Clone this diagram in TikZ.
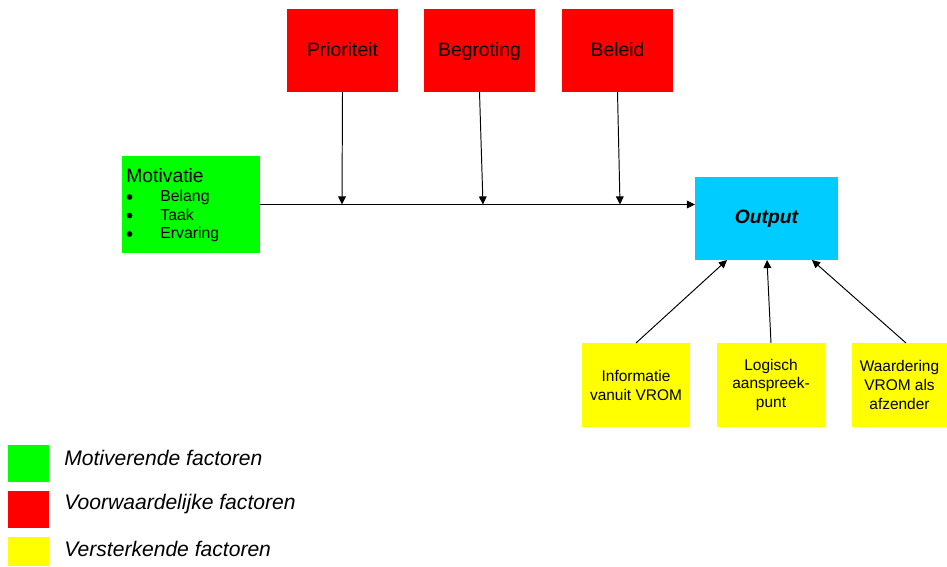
\documentclass[tikz,border=0pt]{standalone}
\usepackage{fontspec}
\setmainfont{Liberation Sans}
\usetikzlibrary{arrows.meta,calc}
\definecolor{cgreen}{HTML}{00FF00}
\definecolor{cred}{HTML}{FF0000}
\definecolor{cyellow}{HTML}{FFFF00}
\definecolor{ccyan}{HTML}{00CCFF}
\tikzset{
  box/.style={draw=none, inner sep=0pt, outer sep=0pt, align=center},
  redbox/.style={box, fill=cred, minimum width=2.22cm, minimum height=1.66cm, text height=8pt, text depth=1.5pt, font=\fontsize{11}{13}\selectfont},
  yelbox/.style={box, fill=cyellow, minimum height=1.68cm, font=\fontsize{8.8}{10.8}\selectfont},
  legbox/.style={box, fill=#1, minimum width=0.82cm},
  legtext/.style={anchor=west, inner sep=0pt, font=\fontsize{12}{14}\selectfont\itshape},
  motitem/.style={anchor=west, inner sep=0pt, font=\fontsize{9}{11}\selectfont},
  bulletdot/.style={fill=black},
  arr/.style={-{Triangle[length=4.6pt,width=4.4pt]}, line width=0.55pt, black},
}
\begin{document}
\begin{tikzpicture}[x=0.02cm,y=-0.02cm]
\useasboundingbox (0,0) rectangle (947,567);
% red boxes
\node[redbox] (prio) at (342.5,50.5) {Prioriteit};
\node[redbox] (begr) at (479.5,50.5) {Begroting};
\node[redbox] (bel)  at (617.5,50.5) {Beleid};
% motivation box
\node[box, fill=cgreen, minimum width=2.76cm, minimum height=1.94cm] (motiv) at (191,204.5) {};
\node[anchor=west, inner sep=0pt, font=\fontsize{11}{13}\selectfont] (mtitle) at (126,176) {Motivatie};
\fill[bulletdot] (129.5,197) circle[radius=2.9];
\fill[bulletdot] (129.5,215.5) circle[radius=2.9];
\fill[bulletdot] (129.5,234) circle[radius=2.9];
\node[motitem] (m1) at (160,197) {Belang};
\node[motitem] (m2) at (160,215) {Taak};
\node[motitem] (m3) at (160,234) {Ervaring};
% output
\node[box, fill=ccyan, minimum width=2.86cm, minimum height=1.66cm, font=\fontsize{11}{13}\selectfont\bfseries\itshape] (out) at (766.5,218.5) {Output};
% yellow boxes
\node[yelbox, minimum width=2.16cm] (info) at (636,385) {Informatie\\vanuit VROM};
\node[yelbox, minimum width=2.16cm] (log) at (771,385) {Logisch\\aanspreek-\\punt};
\node[yelbox, minimum width=1.90cm] (waard) at (899.5,385) {Waardering\\VROM als\\afzender};
% main line
\coordinate (j1) at (342,204.5);
\coordinate (j2) at (483,204.5);
\coordinate (j3) at (620,204.5);
\draw[arr] (motiv.east) -- (motiv.east -| out.west);
\draw[arr] (prio.south) -- (j1);
\draw[arr] (begr.south) -- (j2);
\draw[arr] (bel.south) -- (j3);
% yellow arrows
\draw[arr] (info.north) -- ($(out.south)+(-39.5,0)$);
\draw[arr] (log.north) -- ($(out.south)+(0.5,0)$);
\draw[arr] ($(waard.north)+(6.5,0)$) -- ($(out.south)+(45.5,0)$);
% legend
\node[legbox=cgreen, minimum height=0.74cm] (lg) at (28.5,463.5) {};
\node[legbox=cred, minimum height=0.74cm] (lr) at (28.5,509.5) {};
\node[legbox=cyellow, minimum height=0.58cm] (ly) at (28.5,551.5) {};
\node[legtext] (tg) at (64,458) {Motiverende factoren};
\node[legtext] (tr) at (64,504) {Voorwaardelijke factoren};
\node[legtext] (ty) at (64,549) {Versterkende factoren};
\end{tikzpicture}
\end{document}
